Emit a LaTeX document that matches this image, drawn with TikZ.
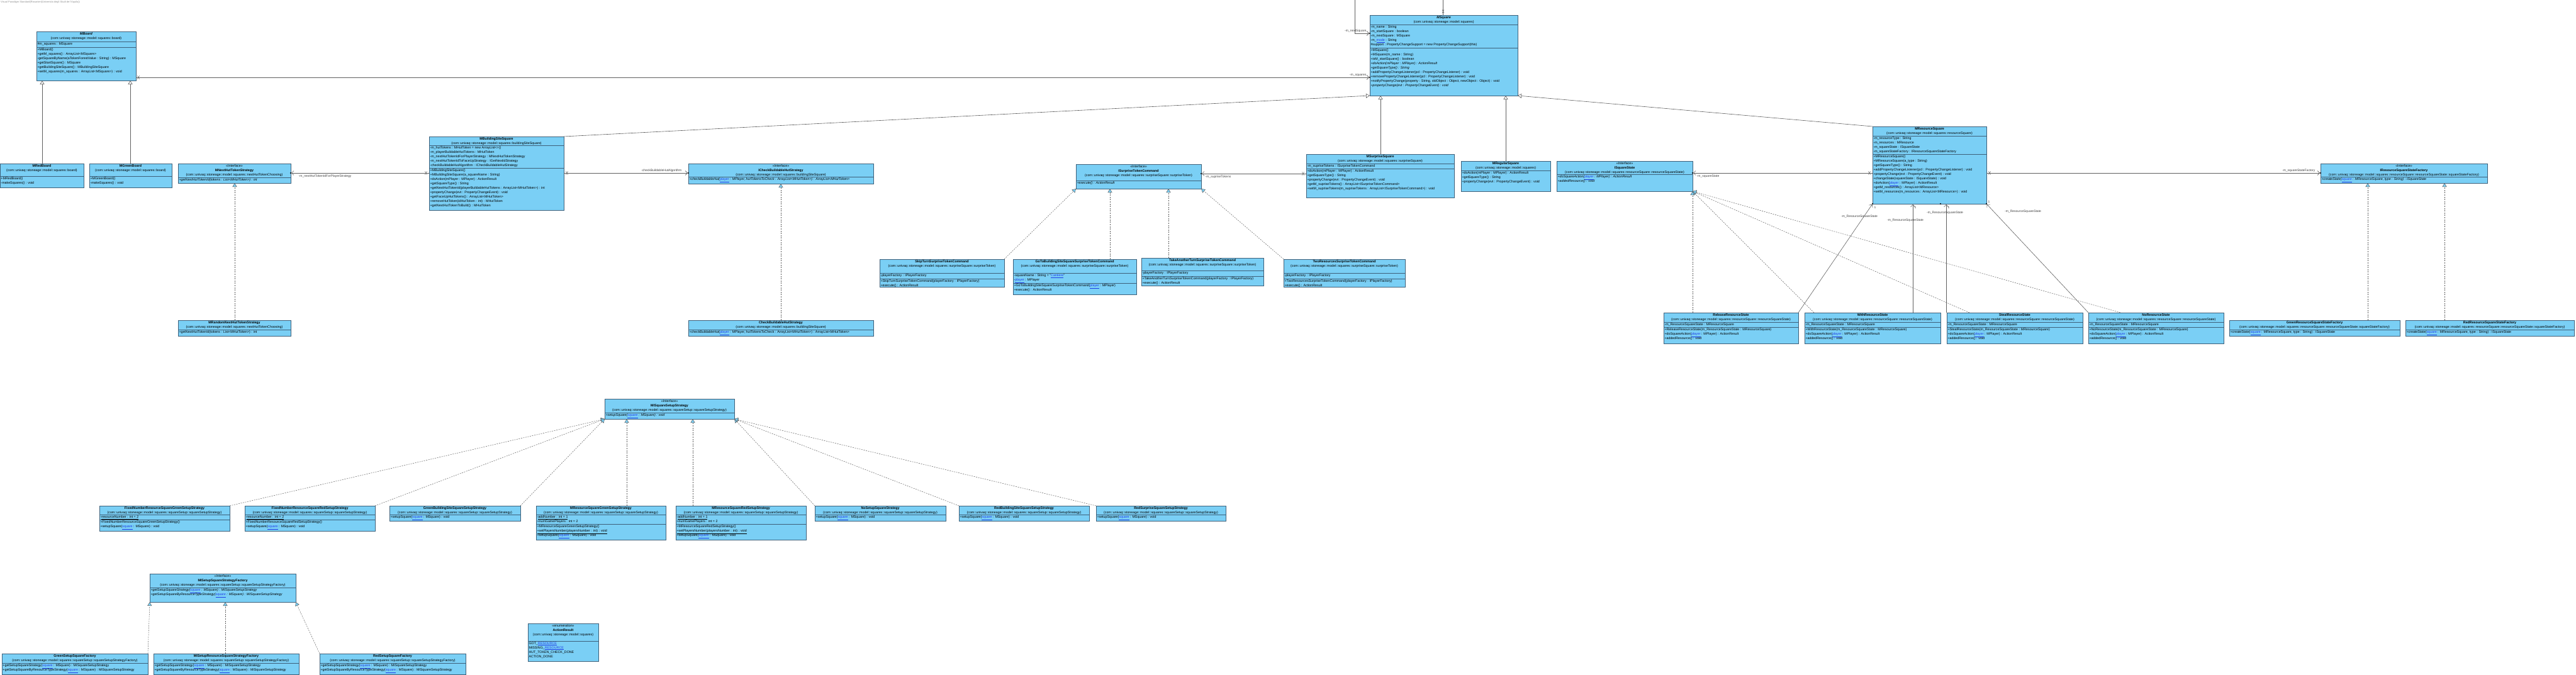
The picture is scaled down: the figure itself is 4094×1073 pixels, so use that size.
\documentclass[tikz,border=0pt]{standalone}
\usepackage{fontspec}
\setmainfont{Liberation Sans}
\usetikzlibrary{positioning,arrows.meta,calc}

\definecolor{clsfill}{RGB}{122,207,245}
\definecolor{clsdraw}{RGB}{62,96,122}
\definecolor{linegray}{RGB}{95,95,95}
\definecolor{linkblue}{RGB}{30,60,230}

\newcommand{\bodyfnt}{\fontsize{5.3}{7}\selectfont}
\newcommand{\labfnt}{\fontsize{5}{6}\selectfont}
\newcommand{\lnk}[1]{\textcolor{linkblue}{\underline{#1}}}
% box, header, compartment
\newcommand{\umlbox}[5]{\node[cls, minimum width=#4pt, minimum height=#5pt] (#1) at (#2,#3) {};}
\newcommand{\umlhead}[2]{\node[head] (#1-hd) at (#1.north) {#2};}
\newcommand{\umlpart}[4]{%
  \draw[sepline] ([yshift=-#3pt]#1.north west) -- ([yshift=-#3pt]#1.north east);
  \node[body] (#1-#2) at ([yshift=-#3pt]#1.north west) {#4};}
% no-navigation cross and owner dot
\newcommand{\xmk}[1]{\draw[line width=0.5pt, linegray] ([shift={(-1.6,-2.6)}]#1) -- ([shift={(1.6,2.6)}]#1) ([shift={(-1.6,2.6)}]#1) -- ([shift={(1.6,-2.6)}]#1);}
\newcommand{\ownd}[1]{\fill[black] (#1) circle (1.1pt);}

\begin{document}
\begin{tikzpicture}[x=1pt,y=-1pt,
  cls/.style={draw=clsdraw, fill=clsfill, line width=0.7pt, anchor=north west, inner sep=0pt, outer sep=0pt},
  head/.style={anchor=north, align=center, inner sep=1.5pt, font=\bodyfnt},
  body/.style={anchor=north west, align=left, inner sep=1.3pt, font=\bodyfnt},
  sepline/.style={draw=clsdraw, line width=0.7pt},
  gen/.style={draw=linegray, line width=0.6pt, -{Triangle[open, length=6pt, width=7pt]}},
  real/.style={draw=linegray, line width=0.5pt, dash pattern=on 2pt off 1.6pt, -{Triangle[length=6pt, width=7pt, fill=clsfill]}},
  assoc/.style={draw=linegray, line width=0.6pt, shorten >=1pt, -{Straight Barb[length=3.5pt, width=7pt]}},
  role/.style={font=\labfnt, inner sep=0.5pt, text=black!75},
]
\useasboundingbox (0,0) rectangle (4094,1073);
\node[anchor=north west, inner sep=1pt, font=\fontsize{4}{5}\selectfont, text=black!45] (vp) at (0,0) {Visual Paradigm Standard(Rosanieri(Universita degli Studi de l'Aquila))};

% boards
\umlbox{mboard}{58}{50}{158}{78}
\umlhead{mboard}{\textbf{\textit{MBoard}}\\(com::univaq::stoneage::model::squares::board)}
\umlpart{mboard}{a}{16}{\#m\_squares : MSquare}
\umlpart{mboard}{o}{25}{+MBoard()\\+getM\_squares() : ArrayList<MSquare>\\-getSquareByName(aTokenForestValue : String) : MSquare\\+getStartSquare() : MSquare\\+getBuildingSiteSquare() : MBuildingSiteSquare\\+setM\_squares(m\_squares : ArrayList<MSquare>) : void}

\umlbox{mredboard}{0}{260}{133}{38}
\umlhead{mredboard}{\textbf{MRedBoard}\\(com::univaq::stoneage::model::squares::board)}
\umlpart{mredboard}{o}{20}{+MRedBoard()\\-makeSquares() : void}

\umlbox{mgreenboard}{142}{260}{131}{38}
\umlhead{mgreenboard}{\textbf{MGreenBoard}\\(com::univaq::stoneage::model::squares::board)}
\umlpart{mgreenboard}{o}{20}{+MGreenBoard()\\-makeSquares() : void}

% next hut token
\umlbox{mnexthut}{283}{260}{179}{31}
\umlhead{mnexthut}{<<Interface>>\\\textbf{MNextHutTokenStrategy}\\(com::univaq::stoneage::model::squares::nextHutTokenChoosing)}
\umlpart{mnexthut}{o}{22}{\textit{+getNextHutTokenId(tokens : List<MHutToken>) : int}}

\umlbox{mrandomnext}{283}{509}{179}{25}
\umlhead{mrandomnext}{\textbf{MRandomNextHutTokenStrategy}\\(com::univaq::stoneage::model::squares::nextHutTokenChoosing)}
\umlpart{mrandomnext}{o}{15}{+getNextHutTokenId(tokens : List<MHutToken>) : int}

% building site
\umlbox{mbuildingsite}{682}{217}{214}{117}
\umlhead{mbuildingsite}{\textbf{MBuildingSiteSquare}\\(com::univaq::stoneage::model::squares::buildingSiteSquare)}
\umlpart{mbuildingsite}{a}{14}{-m\_hutTokens : MHutToken = new ArrayList<>()\\-m\_playerBuildableHutTokens : MHutToken\\-m\_nextHutTokenIdForPlayerStrategy : MNextHutTokenStrategy\\-m\_nextHutTokenIdToFaceUpStrategy : IGetNextIdStrategy\\-checkBuildableHutAlgorithm : ICheckBuildableHutStrategy}
\umlpart{mbuildingsite}{o}{50}{+MBuildingSiteSquare()\\+MBuildingSiteSquare(a\_squareName : String)\\+doAction(mPlayer : MPlayer) : ActionResult\\+getSquareType() : String\\+getNextHutTokenId(playerBuildableHutTokens : ArrayList<MHutToken>) : int\\+propertyChange(evt : PropertyChangeEvent) : void\\+getFaceUpHutTokens() : ArrayList<MHutToken>\\+removeHutToken(idHutToken : int) : MHutToken\\+getNextHutTokenToBuild() : MHutToken}

\umlbox{icheck}{1094}{260}{294}{32}
\umlhead{icheck}{<<Interface>>\\\textbf{ICheckBuildableHutStrategy}\\(com::univaq::stoneage::model::squares::buildingSiteSquare)}
\umlpart{icheck}{o}{21}{\textit{+checkBuildableHut(\lnk{player} : MPlayer, hutTokensToCheck : ArrayList<MHutToken>) : ArrayList<MHutToken>}}

\umlbox{checkbuild}{1094}{509}{294}{25}
\umlhead{checkbuild}{\textbf{CheckBuildableHutStrategy}\\(com::univaq::stoneage::model::squares::buildingSiteSquare)}
\umlpart{checkbuild}{o}{15}{+checkBuildableHut(\lnk{player} : MPlayer, hutTokensToCheck : ArrayList<MHutToken>) : ArrayList<MHutToken>}

% surprise
\umlbox{isurprise}{1710}{261}{199}{39}
\umlhead{isurprise}{<<Interface>>\\\textbf{ISurpriseTokenCommand}\\(com::univaq::stoneage::model::squares::surpriseSquare::surpriseToken)}
\umlpart{isurprise}{o}{26}{\textit{+execute() : ActionResult}}

\umlbox{msurprise}{2076}{245}{235}{69}
\umlhead{msurprise}{\textbf{MSurpriseSquare}\\(com::univaq::stoneage::model::squares::surpriseSquare)}
\umlpart{msurprise}{a}{15}{-m\_supriseTokens : ISurpriseTokenCommand}
\umlpart{msurprise}{o}{23}{+doAction(mPlayer : MPlayer) : ActionResult\\+getSquareType() : String\\+propertyChange(evt : PropertyChangeEvent) : void\\+getM\_supriseTokens() : ArrayList<ISurpriseTokenCommand>\\+setM\_supriseTokens(m\_supriseTokens : ArrayList<ISurpriseTokenCommand>) : void}

\umlbox{skip}{1398}{412}{198}{44}
\umlhead{skip}{\textbf{SkipTurnSurpriseTokenCommand}\\(com::univaq::stoneage::model::squares::surpriseSquare::surpriseToken)}
\umlpart{skip}{a}{22}{-playerFactory : IPlayerFactory}
\umlpart{skip}{o}{31}{+SkipTurnSurpriseTokenCommand(playerFactory : IPlayerFactory)\\+execute() : ActionResult}

\umlbox{goto}{1610}{412}{196}{56}
\umlhead{goto}{\textbf{GoToBuildingSiteSquareSurpriseTokenCommand}\\(com::univaq::stoneage::model::squares::surpriseSquare::surpriseToken)}
\umlpart{goto}{a}{22}{-squareName : String = "\lnk{Cantiere}"\\-\lnk{player} : MPlayer}
\umlpart{goto}{o}{38}{+GoToBuildingSiteSquareSurpriseTokenCommand(\lnk{player} : MPlayer)\\+execute() : ActionResult}

\umlbox{take}{1814}{410}{194}{44}
\umlhead{take}{\textbf{TakeAnotherTurnSurpriseTokenCommand}\\(com::univaq::stoneage::model::squares::surpriseSquare::surpriseToken)}
\umlpart{take}{a}{20}{-playerFactory : IPlayerFactory}
\umlpart{take}{o}{29}{+TakeAnotherTurnSurpriseTokenCommand(playerFactory : IPlayerFactory)\\+execute() : ActionResult}

\umlbox{two}{2040}{412}{193}{44}
\umlhead{two}{\textbf{TwoResourcesSurpriseTokenCommand}\\(com::univaq::stoneage::model::squares::surpriseSquare::surpriseToken)}
\umlpart{two}{a}{22}{-playerFactory : IPlayerFactory}
\umlpart{two}{o}{31}{+TwoResourcesSurpriseTokenCommand(playerFactory : IPlayerFactory)\\+execute() : ActionResult}

% squares
\umlbox{msquare}{2177}{24}{235}{128}
\umlhead{msquare}{\textbf{\textit{MSquare}}\\(com::univaq::stoneage::model::squares)}
\umlpart{msquare}{a}{15}{-m\_name : String\\-m\_startSquare : boolean\\-m\_nextSquare : MSquare\\-m\_\lnk{mode} : String\\\#support : PropertyChangeSupport = new PropertyChangeSupport(this)}
\umlpart{msquare}{o}{52}{+MSquare()\\+MSquare(m\_name : String)\\+isM\_startSquare() : boolean\\\textit{+doAction(mPlayer : MPlayer) : ActionResult}\\\textit{+getSquareType() : String}\\+addPropertyChangeListener(pcl : PropertyChangeListener) : void\\+removePropertyChangeListener(pcl : PropertyChangeListener) : void\\+notifyPropertyChange(property : String, oldObject : Object, newObject : Object) : void\\\textit{+propertyChange(evt : PropertyChangeEvent) : void}}

\umlbox{mregular}{2322}{256}{142}{48}
\umlhead{mregular}{\textbf{MRegularSquare}\\(com::univaq::stoneage::model::squares)}
\umlpart{mregular}{o}{15}{+doAction(mPlayer : MPlayer) : ActionResult\\+getSquareType() : String\\+propertyChange(evt : PropertyChangeEvent) : void}

\umlbox{isquarestate}{2474}{256}{216}{48}
\umlhead{isquarestate}{<<Interface>>\\\textbf{ISquareState}\\(com::univaq::stoneage::model::squares::resourceSquare::resourceSquareState)}
\umlpart{isquarestate}{o}{21}{\textit{+doSquareAction(\lnk{player} : MPlayer) : ActionResult}\\\textit{+addedResource() : void}}

\umlbox{mresource}{2976}{201}{181}{123}
\umlhead{mresource}{\textbf{MResourceSquare}\\(com::univaq::stoneage::model::squares::resourceSquare)}
\umlpart{mresource}{a}{15}{-m\_resourceType : String\\-m\_resources : MResource\\-m\_squareState : ISquareState\\-m\_squareStateFactory : IResourceSquareStateFactory}
\umlpart{mresource}{o}{44}{+MResourceSquare()\\+MResourceSquare(a\_type : String)\\+getSquareType() : String\\+addPropertyChangeListener(pcl : PropertyChangeListener) : void\\+propertyChange(evt : PropertyChangeEvent) : void\\+changeState(squareState : ISquareState) : void\\+doAction(\lnk{player} : MPlayer) : ActionResult\\+getM\_resources() : ArrayList<MResource>\\+setM\_resources(m\_resources : ArrayList<MResource>) : void}

\umlbox{iresfactory}{3688}{260}{265}{31}
\umlhead{iresfactory}{<<Interface>>\\\textbf{IResourceSquareStateFactory}\\(com::univaq::stoneage::model::squares::resourceSquare::resourceSquareState::squareStateFactory)}
\umlpart{iresfactory}{o}{21}{\textit{+createState(\lnk{square} : MResourceSquare, type : String) : ISquareState}}

\umlbox{greenresfactory}{3543}{509}{271}{25}
\umlhead{greenresfactory}{\textbf{GreenResourceSquareStateFactory}\\(com::univaq::stoneage::model::squares::resourceSquare::resourceSquareState::squareStateFactory)}
\umlpart{greenresfactory}{o}{15}{+createState(\lnk{square} : MResourceSquare, type : String) : ISquareState}

\umlbox{redresfactory}{3823}{509}{268}{25}
\umlhead{redresfactory}{\textbf{RedResourceSquareStateFactory}\\(com::univaq::stoneage::model::squares::resourceSquare::resourceSquareState::squareStateFactory)}
\umlpart{redresfactory}{o}{15}{+createState(\lnk{square} : MResourceSquare, type : String) : ISquareState}

% resource states
\umlbox{release}{2644}{497}{214}{49}
\umlhead{release}{\textbf{ReleaseResourceState}\\(com::univaq::stoneage::model::squares::resourceSquare::resourceSquareState)}
\umlpart{release}{a}{15}{-m\_ResourceSquareState : MResourceSquare}
\umlpart{release}{o}{23}{+ReleaseResourceState(m\_ResourceSquareState : MResourceSquare)\\+doSquareAction(\lnk{player} : MPlayer) : ActionResult\\+addedResource() : void}

\umlbox{withres}{2868}{497}{216}{49}
\umlhead{withres}{\textbf{WithResourceState}\\(com::univaq::stoneage::model::squares::resourceSquare::resourceSquareState)}
\umlpart{withres}{a}{15}{-m\_ResourceSquareState : MResourceSquare}
\umlpart{withres}{o}{23}{+WithResourceState(m\_ResourceSquareState : MResourceSquare)\\+doSquareAction(\lnk{player} : MPlayer) : ActionResult\\+addedResource() : void}

\umlbox{steal}{3094}{497}{216}{49}
\umlhead{steal}{\textbf{StealResourceState}\\(com::univaq::stoneage::model::squares::resourceSquare::resourceSquareState)}
\umlpart{steal}{a}{15}{-m\_ResourceSquareState : MResourceSquare}
\umlpart{steal}{o}{23}{+StealResourceState(m\_ResourceSquareState : MResourceSquare)\\+doSquareAction(\lnk{player} : MPlayer) : ActionResult\\+addedResource() : void}

\umlbox{nores}{3319}{497}{215}{49}
\umlhead{nores}{\textbf{NoResourceState}\\(com::univaq::stoneage::model::squares::resourceSquare::resourceSquareState)}
\umlpart{nores}{a}{15}{-m\_ResourceSquareState : MResourceSquare}
\umlpart{nores}{o}{23}{+NoResourceState(m\_ResourceSquareState : MResourceSquare)\\+doSquareAction(\lnk{player} : MPlayer) : ActionResult\\+addedResource() : void}

% square setup strategies
\umlbox{misquare}{961}{634}{206}{32}
\umlhead{misquare}{<<Interface>>\\\textbf{MISquareSetupStrategy}\\(com::univaq::stoneage::model::squares::squareSetup::squareSetupStrategy)}
\umlpart{misquare}{o}{22}{\textit{+setupSquare(\lnk{square} : MSquare) : void}}

\umlbox{fixgreen}{158}{804}{207}{40}
\umlhead{fixgreen}{\textbf{FixedNumberResourceSquareGreenSetupStrategy}\\(com::univaq::stoneage::model::squares::squareSetup::squareSetupStrategy)}
\umlpart{fixgreen}{a}{14}{-\underline{resourceNumber : int = 2}}
\umlpart{fixgreen}{o}{22}{+FixedNumberResourceSquareGreenSetupStrategy()\\+setupSquare(\lnk{square} : MSquare) : void}

\umlbox{fixred}{389}{804}{207}{40}
\umlhead{fixred}{\textbf{FixedNumberResourceSquareRedSetupStrategy}\\(com::univaq::stoneage::model::squares::squareSetup::squareSetupStrategy)}
\umlpart{fixred}{a}{14}{-\underline{resourceNumber : int = 2}}
\umlpart{fixred}{o}{22}{+FixedNumberResourceSquareRedSetupStrategy()\\+setupSquare(\lnk{square} : MSquare) : void}

\umlbox{greenbuild}{619}{804}{208}{24}
\umlhead{greenbuild}{\textbf{GreenBuildingSiteSquareSetupStrategy}\\(com::univaq::stoneage::model::squares::squareSetup::squareSetupStrategy)}
\umlpart{greenbuild}{o}{14}{+setupSquare(\lnk{square} : MSquare) : void}

\umlbox{mresgreen}{852}{804}{206}{54}
\umlhead{mresgreen}{\textbf{MResourceSquareGreenSetupStrategy}\\(com::univaq::stoneage::model::squares::squareSetup::squareSetupStrategy)}
\umlpart{mresgreen}{a}{14}{-\underline{addNumber : int = 1}\\\underline{+numGamePlayers : int = 2}}
\umlpart{mresgreen}{o}{29}{+MResourceSquareGreenSetupStrategy()\\\underline{+setPlayersNumber(playersNumber : int) : void}\\+setupSquare(\lnk{square} : MSquare) : void}

\umlbox{mresred}{1074}{804}{207}{54}
\umlhead{mresred}{\textbf{MResourceSquareRedSetupStrategy}\\(com::univaq::stoneage::model::squares::squareSetup::squareSetupStrategy)}
\umlpart{mresred}{a}{14}{-\underline{addNumber : int = 1}\\\underline{+numGamePlayers : int = 2}}
\umlpart{mresred}{o}{29}{+MResourceSquareRedSetupStrategy()\\\underline{+setPlayersNumber(playersNumber : int) : void}\\+setupSquare(\lnk{square} : MSquare) : void}

\umlbox{nosetup}{1295}{804}{208}{24}
\umlhead{nosetup}{\textbf{NoSetupSquareStrategy}\\(com::univaq::stoneage::model::squares::squareSetup::squareSetupStrategy)}
\umlpart{nosetup}{o}{14}{+setupSquare(\lnk{square} : MSquare) : void}

\umlbox{redbuild}{1524}{804}{207}{24}
\umlhead{redbuild}{\textbf{RedBuildingSiteSquareSetupStrategy}\\(com::univaq::stoneage::model::squares::squareSetup::squareSetupStrategy)}
\umlpart{redbuild}{o}{14}{+setupSquare(\lnk{square} : MSquare) : void}

\umlbox{redsurprise}{1742}{804}{206}{24}
\umlhead{redsurprise}{\textbf{RedSurpriseSquareSetupStrategy}\\(com::univaq::stoneage::model::squares::squareSetup::squareSetupStrategy)}
\umlpart{redsurprise}{o}{14}{+setupSquare(\lnk{square} : MSquare) : void}

% setup factories
\umlbox{misetupfactory}{238}{912}{232}{45}
\umlhead{misetupfactory}{<<Interface>>\\\textbf{MISetupSquareStrategyFactory}\\(com::univaq::stoneage::model::squares::squareSetup::squareSetupStrategyFactory)}
\umlpart{misetupfactory}{o}{22}{\textit{+getSetupSquareStrategy(\lnk{square} : MSquare) : MISquareSetupStrategy}\\\textit{+getSetupSquareByResourceTypeStrategy(\lnk{square} : MSquare) : MISquareSetupStrategy}}

\umlbox{greensetup}{3}{1039}{232}{33}
\umlhead{greensetup}{\textbf{GreenSetupSquareFactory}\\(com::univaq::stoneage::model::squares::squareSetup::squareSetupStrategyFactory)}
\umlpart{greensetup}{o}{15}{+getSetupSquareStrategy(\lnk{square} : MSquare) : MISquareSetupStrategy\\+getSetupSquareByResourceTypeStrategy(\lnk{square} : MSquare) : MISquareSetupStrategy}

\umlbox{misetupres}{244}{1039}{231}{33}
\umlhead{misetupres}{\textbf{MISetupResourceSquareStrategyFactory}\\(com::univaq::stoneage::model::squares::squareSetup::squareSetupStrategyFactory)}
\umlpart{misetupres}{o}{15}{+getSetupSquareStrategy(\lnk{square} : MSquare) : MISquareSetupStrategy\\+getSetupSquareByResourceTypeStrategy(\lnk{square} : MSquare) : MISquareSetupStrategy}

\umlbox{redsetup}{508}{1039}{232}{33}
\umlhead{redsetup}{\textbf{RedSetupSquareFactory}\\(com::univaq::stoneage::model::squares::squareSetup::squareSetupStrategyFactory)}
\umlpart{redsetup}{o}{15}{+getSetupSquareStrategy(\lnk{square} : MSquare) : MISquareSetupStrategy\\+getSetupSquareByResourceTypeStrategy(\lnk{square} : MSquare) : MISquareSetupStrategy}

\umlbox{actionresult}{839}{991}{112}{60}
\umlhead{actionresult}{<<enumeration>>\\\textbf{ActionResult}\\(com::univaq::stoneage::model::squares)}
\umlpart{actionresult}{l}{28}{GOT\_\lnk{RESOURCE}\\MISSING\_\lnk{RESOURCE}\\HUT\_TOKEN\_CHECK\_DONE\\ACTION\_DONE}

% generalizations
\draw[gen] ([xshift=67pt]mredboard.north west) -- ([xshift=67pt]mredboard.north west |- mboard.south);
\draw[gen] ([xshift=65pt]mgreenboard.north west) -- ([xshift=65pt]mgreenboard.north west |- mboard.south);
\draw[gen] (mbuildingsite.north east) -- (msquare.south west);
\draw[gen] ([xshift=118pt]msurprise.north west) -- ([xshift=118pt]msurprise.north west |- msquare.south);
\draw[gen] ([xshift=71pt]mregular.north west) -- ([xshift=71pt]mregular.north west |- msquare.south);
\draw[gen] (mresource.north west) -- (msquare.south east);

% realizations
\draw[real] ([xshift=90pt]mrandomnext.north west) -- ([xshift=90pt]mrandomnext.north west |- mnexthut.south);
\draw[real] ([xshift=147pt]checkbuild.north west) -- ([xshift=147pt]checkbuild.north west |- icheck.south);
\draw[real] (skip.north east) -- (isurprise.south west);
\draw[real] ([xshift=154pt]goto.north west) -- ([xshift=154pt]goto.north west |- isurprise.south);
\draw[real] ([xshift=43pt]take.north west) -- ([xshift=43pt]take.north west |- isurprise.south);
\draw[real] (two.north west) -- (isurprise.south east);
\draw[real] ([xshift=46pt]release.north west) -- (isquarestate.south east);
\draw[real] ([xshift=15pt]withres.north west) -- (isquarestate.south east);
\draw[real] ([xshift=36pt]steal.north west) -- (isquarestate.south east);
\draw[real] ([xshift=51pt]nores.north west) -- (isquarestate.south east);
\draw[real] ([xshift=220pt]greenresfactory.north west) -- ([xshift=220pt]greenresfactory.north west |- iresfactory.south);
\draw[real] ([xshift=62pt]redresfactory.north west) -- ([xshift=62pt]redresfactory.north west |- iresfactory.south);
\draw[real] (fixgreen.north east) -- (misquare.south west);
\draw[real] (fixred.north east) -- (misquare.south west);
\draw[real] (greenbuild.north east) -- (misquare.south west);
\draw[real] ([xshift=144pt]mresgreen.north west) -- ([xshift=144pt]mresgreen.north west |- misquare.south);
\draw[real] ([xshift=27pt]mresred.north west) -- ([xshift=27pt]mresred.north west |- misquare.south);
\draw[real] (nosetup.north west) -- (misquare.south east);
\draw[real] (redbuild.north west) -- (misquare.south east);
\draw[real] (redsurprise.north west) -- (misquare.south east);
\draw[real] (greensetup.north east) -- (misetupfactory.south west);
\draw[real] ([xshift=114pt]misetupres.north west) -- ([xshift=114pt]misetupres.north west |- misetupfactory.south);
\draw[real] (redsetup.north west) -- (misetupfactory.south east);

% associations
\coordinate (sqa) at ([yshift=5pt]mboard.south east);
\coordinate (sqb) at (sqa -| msquare.west);
\draw[assoc] (sqa) -- (sqb); \ownd{sqb}
\coordinate (sqx) at ([xshift=4pt]sqa); \xmk{sqx}
\node[role, anchor=south east] (sqlab) at ([xshift=-5pt, yshift=1pt]sqb) {-m\_squares};

% self association, loop leaves the sheet at the top
\coordinate (nxa) at ([yshift=-29pt]msquare.north west);
\coordinate (nxb) at ([xshift=-1pt]msquare.north);
\draw[assoc] (nxb) -- ([yshift=40pt]nxb) -| ([xshift=-24pt]nxa) -- (nxa); \ownd{nxa}
\coordinate (nxx) at ([yshift=6pt]nxb); \xmk{nxx}
\node[role, anchor=south east] (nxlab) at ([xshift=-5pt, yshift=1pt]nxa) {-m\_nextSquare};

\coordinate (nha) at ([yshift=-58pt]mbuildingsite.north west);
\coordinate (nhb) at (nha -| mnexthut.east);
\draw[assoc] (nha) -- (nhb); \ownd{nhb}
\coordinate (nhx) at ([xshift=-5pt]nha); \xmk{nhx}
\node[role, anchor=north west] (nhlab) at ([xshift=12pt, yshift=-2pt]nhb) {-m\_nextHutTokenIdForPlayerStrategy};

\coordinate (cha) at ([yshift=-58pt]mbuildingsite.north east);
\coordinate (chb) at (cha -| icheck.west);
\draw[assoc] (cha) -- (chb); \ownd{chb}
\coordinate (chx) at ([xshift=5pt]cha); \xmk{chx}
\node[role, anchor=south east] (chlab) at ([xshift=-10pt, yshift=1pt]chb) {-checkBuildableHutAlgorithm};

\coordinate (sta) at ([yshift=-31pt]msurprise.north west);
\coordinate (stb) at (sta -| isurprise.east);
\draw[assoc] (sta) -- (stb); \ownd{stb}
\coordinate (stx) at ([xshift=-5pt]sta); \xmk{stx}
\node[role, anchor=north west] (stlab) at ([xshift=6pt, yshift=-2pt]stb) {-m\_supriseTokens};

\coordinate (ssa) at ([yshift=-74pt]mresource.north west);
\coordinate (ssb) at (ssa -| isquarestate.east);
\draw[assoc] (ssa) -- (ssb); \ownd{ssb}
\coordinate (ssx) at ([xshift=-5pt]ssa); \xmk{ssx}
\node[role, anchor=north west] (sslab) at ([xshift=6pt, yshift=-2pt]ssb) {-m\_squareState};

\coordinate (sfa) at ([yshift=-74pt]mresource.north east);
\coordinate (sfb) at (sfa -| iresfactory.west);
\draw[assoc] (sfa) -- (sfb); \ownd{sfb}
\coordinate (sfx) at ([xshift=5pt]sfa); \xmk{sfx}
\node[role, anchor=south east] (sflab) at ([xshift=-8pt, yshift=1pt]sfb) {-m\_squareStateFactory};

% states -> resource square
\draw[assoc] (release.north east) -- (mresource.south west); \ownd{mresource.south west}
\draw[assoc] ([xshift=172pt]withres.north west) -- ([xshift=172pt]withres.north west |- mresource.south); \ownd{mresource.south -| withres.north east}
\draw[assoc] ([xshift=-1pt]steal.north west) -- ([xshift=-1pt]steal.north west |- mresource.south);
\draw[assoc] (nores.north west) -- (mresource.south east); \ownd{mresource.south east}
\node[role] (rs1) at (2955,344) {-m\_ResourceSquareState};
\node[role] (rs2) at (3028,350) {-m\_ResourceSquareState};
\node[role] (rs3) at (3091,338) {-m\_ResourceSquareState};
\node[role] (rs4) at (3215,336) {-m\_ResourceSquareState};
\node[role] (m1) at (2980,330) {1};
\node[role] (m2) at (3044,330) {1};
\node[role] (m3) at (3097,330) {1};
\node[role] (m4) at (3161,321) {1};
\end{tikzpicture}
\end{document}
